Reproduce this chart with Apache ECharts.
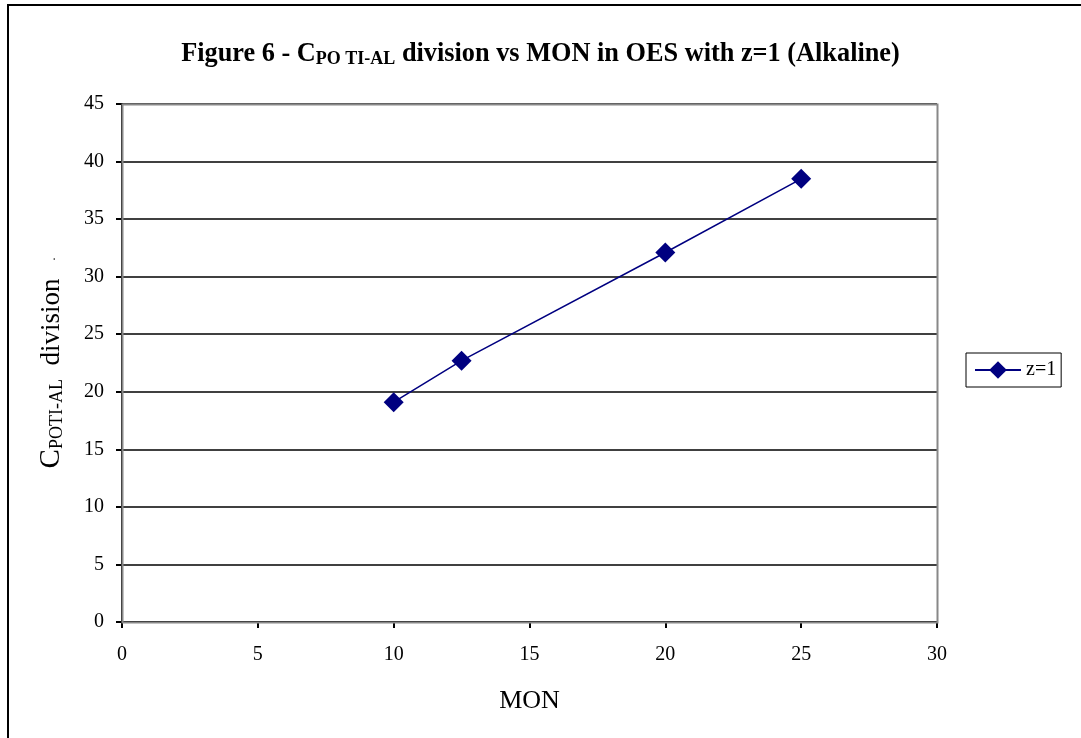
<!DOCTYPE html>
<html>
<head>
<meta charset="utf-8">
<script src="https://cdn.jsdelivr.net/npm/echarts@6/dist/echarts.min.js"></script>
<style>
html,body{margin:0;padding:0;background:#fff;}
#chart{width:1081px;height:738px;}
</style>
</head>
<body>
<div id="chart"></div>
<script>
const seriesName = 'z=1';
const monValues = [10, 12.5, 20, 25];
const cpotiValues = [19.1, 22.7, 32.1, 38.5];
const xTicks = [0, 5, 10, 15, 20, 25, 30];
const yTicks = [0, 5, 10, 15, 20, 25, 30, 35, 40, 45];

const FONT = '"Liberation Serif", "Times New Roman", serif';
const chart = echarts.init(document.getElementById('chart'), null, {renderer: 'canvas'});
const data = monValues.map((x, i) => [x, cpotiValues[i]]);

chart.setOption({
  backgroundColor: '#fff',
  animation: false,
  graphic: [
    {type: 'rect', shape: {x: 8, y: 5, width: 1100, height: 760}, style: {fill: 'none', stroke: '#000', lineWidth: 2}, z: 0, silent: true},
    {type: 'rect', shape: {x: 122.5, y: 104.5, width: 815, height: 518}, style: {fill: 'none', stroke: '#888', lineWidth: 2}, z: 1, silent: true}
  ],
  title: {
    text: '{b|Figure 6 - C}{s|PO TI-AL}{b| division vs MON in OES with z=1 (Alkaline)}',
    left: 'center',
    top: 35,
    textStyle: {
      rich: {
        b: {fontFamily: FONT, fontWeight: 'bold', fontSize: 26.3, color: '#000'},
        s: {fontFamily: FONT, fontWeight: 'bold', fontSize: 18, color: '#000', verticalAlign: 'bottom', padding: [10, 0, 0, 0]}
      }
    }
  },
  legend: {
    left: 966, top: 353,
    orient: 'vertical',
    borderColor: '#000', borderWidth: 1,
    padding: [7, 5, 7, 8],
    itemWidth: 46, itemHeight: 22,
    textStyle: {fontFamily: FONT, fontSize: 20, color: '#000'},
    data: [seriesName]
  },
  grid: {left: 122, top: 104, right: 144, bottom: 116, containLabel: false},
  xAxis: {
    type: 'value', min: 0, max: 30, interval: 5,
    name: 'MON', nameLocation: 'middle', nameGap: 66,
    nameTextStyle: {fontFamily: FONT, fontSize: 26, color: '#000'},
    axisLine: {show: true, onZero: false, lineStyle: {color: '#000', width: 2}},
    axisTick: {show: true, inside: false, length: 6, lineStyle: {color: '#000', width: 2}},
    axisLabel: {fontFamily: FONT, fontSize: 20, color: '#000', margin: 23, formatter: v => xTicks.includes(v) ? String(v) : ''},
    splitLine: {show: false}
  },
  yAxis: {
    type: 'value', min: 0, max: 45, interval: 5,
    name: '{c|C}{s|POTI-AL}{d|  division}{t|      .}',
    nameLocation: 'middle', nameGap: 56, nameRotate: 90,
    nameTextStyle: {
      padding: [0, 0, 0, 0],
      rich: {
        c: {fontFamily: FONT, fontSize: 29, color: '#000'},
        s: {fontFamily: FONT, fontSize: 18, color: '#000', verticalAlign: 'bottom', padding: [7, 0, 0, 0]},
        d: {fontFamily: FONT, fontSize: 27, color: '#000'},
        t: {fontFamily: FONT, fontSize: 12, color: '#000'}
      }
    },
    axisLine: {show: true, lineStyle: {color: '#000', width: 2}},
    axisTick: {show: true, inside: false, length: 6, lineStyle: {color: '#000', width: 2}},
    axisLabel: {fontFamily: FONT, fontSize: 20, color: '#000', margin: 18, formatter: v => yTicks.includes(v) ? String(v) : ''},
    splitLine: {show: true, lineStyle: {color: '#000', width: 1.5}}
  },
  series: [{
    name: seriesName,
    type: 'line',
    data: data,
    symbol: 'diamond',
    symbolSize: 20,
    itemStyle: {color: '#000080'},
    lineStyle: {color: '#000080', width: 1.5},
    z: 5
  }]
});
</script>
</body>
</html>
